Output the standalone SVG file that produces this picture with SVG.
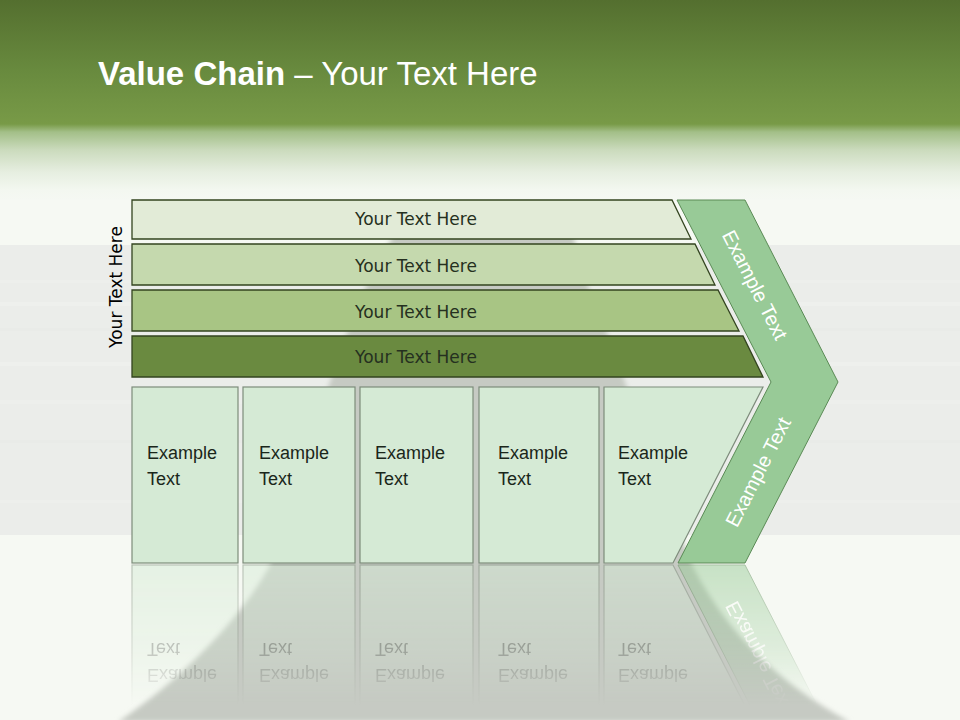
<svg xmlns="http://www.w3.org/2000/svg" xmlns:xlink="http://www.w3.org/1999/xlink" width="960" height="720" viewBox="0 0 960 720">
<defs>
<style>
.bar{stroke:#33441f;stroke-width:1.3}
.box{fill:#d5ead5;stroke:#7d8c7b;stroke-width:1.2}
.bartxt{font-family:"DejaVu Sans",Verdana,sans-serif;font-size:17px;fill:#253020;text-anchor:middle}
.boxtxt{font-family:"Liberation Sans",Arial,sans-serif;font-size:18px;fill:#1a261a}
.chev{fill:#98ca97;stroke:#5a8a55;stroke-width:1}
.chevtxt{font-family:"Liberation Sans",Arial,sans-serif;font-size:20px;fill:#ffffff;text-anchor:middle}
</style>
<linearGradient id="sky" x1="0" y1="0" x2="0" y2="200" gradientUnits="userSpaceOnUse">
<stop offset="0" stop-color="#546f2f"/>
<stop offset="0.35" stop-color="#688a3e"/>
<stop offset="0.62" stop-color="#789a47"/>
<stop offset="0.66" stop-color="#a3bf88"/>
<stop offset="0.75" stop-color="#cbdbbd"/>
<stop offset="0.86" stop-color="#e6eee0"/>
<stop offset="0.95" stop-color="#f3f7f0"/>
<stop offset="1" stop-color="#f5f8f3"/>
</linearGradient>
<linearGradient id="fadeGrad" x1="0" y1="564" x2="0" y2="705" gradientUnits="userSpaceOnUse">
<stop offset="0" stop-color="#ffffff" stop-opacity="0.5"/>
<stop offset="0.6" stop-color="#ffffff" stop-opacity="0.25"/>
<stop offset="1" stop-color="#ffffff" stop-opacity="0"/>
</linearGradient>
<mask id="fade" maskUnits="userSpaceOnUse" x="0" y="564" width="960" height="156">
<rect x="0" y="564" width="960" height="156" fill="url(#fadeGrad)"/>
</mask>
<filter id="soft" x="-10%" y="-10%" width="120%" height="120%">
<feGaussianBlur stdDeviation="2.5"/>
</filter>
</defs>

<g id="background">
<rect x="0" y="0" width="960" height="720" fill="#f6f9f3"/>
<rect x="0" y="0" width="960" height="200" fill="url(#sky)"/>
<rect x="0" y="245" width="960" height="290" fill="#ebedea"/>
<rect x="0" y="280" width="960" height="3" fill="#edefec"/>
<rect x="0" y="302" width="960" height="4" fill="#eef0ed"/>
<rect x="0" y="328" width="960" height="3" fill="#e9ebe8"/>
<rect x="0" y="362" width="960" height="4" fill="#eef0ed"/>
<rect x="0" y="400" width="960" height="4" fill="#edefec"/>
<rect x="0" y="440" width="960" height="3" fill="#e9ebe8"/>
<rect x="0" y="500" width="960" height="3" fill="#edefec"/>
<path d="M 395 232 C 430 218 540 218 572 232 L 588 287 L 607 333 L 625 382 L 655 470 L 692 565 C 730 640 790 690 850 722 L 118 722 C 180 680 240 620 270 565 L 300 470 L 330 382 L 347 333 L 366 287 Z" fill="#c6cac3" filter="url(#soft)"/>
</g>

<g id="reflection" mask="url(#fade)">
<use xlink:href="#lower" href="#lower" transform="matrix(1 0 0 -1 0 1128)"/>
</g>

<g id="connectors"/>

<g id="title">
<text x="98" y="85" font-family="Liberation Sans, Arial, sans-serif" font-size="33" fill="#ffffff"><tspan font-weight="bold">Value Chain</tspan> – Your Text Here</text>
</g>

<g id="side-label">
<text class="bartxt" transform="translate(122 287) rotate(-90)" x="0" y="0" style="fill:#000000">Your Text Here</text>
</g>

<g id="bar-1">
<polygon class="bar" points="132,200 672,200 691,239 132,239" fill="#e2ebd7"/>
<text class="bartxt" x="416" y="225">Your Text Here</text>
</g>
<g id="bar-2">
<polygon class="bar" points="132,244 695,244 715,285 132,285" fill="#c5d9ae"/>
<text class="bartxt" x="416" y="272">Your Text Here</text>
</g>
<g id="bar-3">
<polygon class="bar" points="132,290 718,290 739,331 132,331" fill="#a8c584"/>
<text class="bartxt" x="416" y="318">Your Text Here</text>
</g>
<g id="bar-4">
<polygon class="bar" points="132,336 743,336 763,377 132,377" fill="#6a8a40"/>
<text class="bartxt" x="416" y="363">Your Text Here</text>
</g>

<g id="lower">
<g id="box-1">
<rect class="box" x="132" y="387" width="106" height="176"/>
<text class="boxtxt" x="147" y="459">Example</text>
<text class="boxtxt" x="147" y="485">Text</text>
</g>
<g id="box-2">
<rect class="box" x="243" y="387" width="112" height="176"/>
<text class="boxtxt" x="259" y="459">Example</text>
<text class="boxtxt" x="259" y="485">Text</text>
</g>
<g id="box-3">
<rect class="box" x="360" y="387" width="113" height="176"/>
<text class="boxtxt" x="375" y="459">Example</text>
<text class="boxtxt" x="375" y="485">Text</text>
</g>
<g id="box-4">
<rect class="box" x="479" y="387" width="120" height="176"/>
<text class="boxtxt" x="498" y="459">Example</text>
<text class="boxtxt" x="498" y="485">Text</text>
</g>
<g id="box-5">
<polygon class="box" points="604,387 763,387 673,563 604,563"/>
<text class="boxtxt" x="618" y="459">Example</text>
<text class="boxtxt" x="618" y="485">Text</text>
</g>
<g id="chevron">
<polygon class="chev" points="677,200 745,200 838,382 745,563 678,563 771,382"/>
<text class="chevtxt" transform="translate(755 285) rotate(63)" x="0" y="7">Example Text</text>
<text class="chevtxt" transform="translate(758 472) rotate(-63)" x="0" y="7">Example Text</text>
</g>
</g>
</svg>
